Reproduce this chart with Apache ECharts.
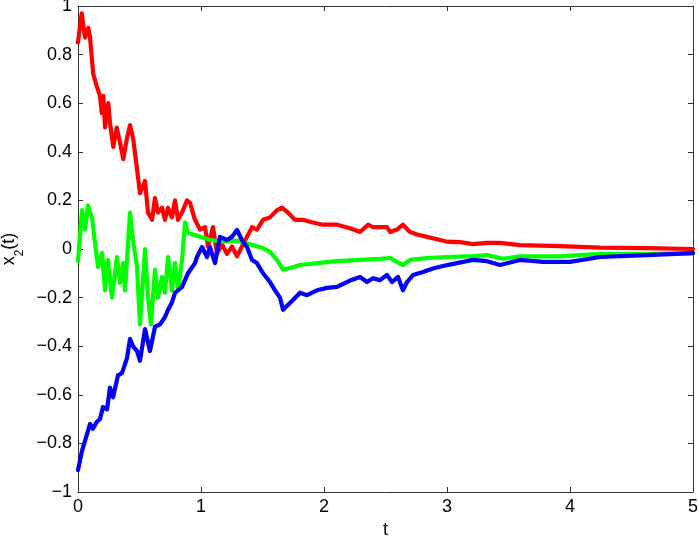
<!DOCTYPE html>
<html>
<head>
<meta charset="utf-8">
<script src="https://cdn.jsdelivr.net/npm/echarts@6/dist/echarts.min.js"></script>
<style>html,body{margin:0;padding:0;background:#fff}#c{width:699px;height:538px}</style>
</head>
<body>
<div id="c"></div>
<script>
// ---- data ----
const xTicks = [0, 1, 2, 3, 4, 5];
const yTicks = [-1, -0.8, -0.6, -0.4, -0.2, 0, 0.2, 0.4, 0.6, 0.8, 1];

const tRed = [0, 0.030, 0.057, 0.084, 0.098, 0.124, 0.152, 0.179, 0.193, 0.206, 0.220, 0.246, 0.260, 0.287, 0.315, 0.341, 0.368, 0.396, 0.423, 0.450, 0.477, 0.504, 0.545, 0.569, 0.602, 0.626, 0.650, 0.683, 0.707, 0.732, 0.764, 0.789, 0.813, 0.846, 0.886, 0.911, 0.951, 0.992, 1.033, 1.057, 1.098, 1.130, 1.171, 1.211, 1.252, 1.293, 1.333, 1.374, 1.415, 1.455, 1.504, 1.561, 1.618, 1.659, 1.707, 1.764, 1.829, 1.902, 1.992, 2.106, 2.211, 2.293, 2.358, 2.398, 2.455, 2.512, 2.537, 2.593, 2.642, 2.699, 2.756, 2.837, 2.919, 3.000, 3.106, 3.211, 3.325, 3.431, 3.593, 3.919, 4.244, 4.626, 5.000];
const yRed = [0.85, 0.97, 0.87, 0.91, 0.87, 0.72, 0.67, 0.63, 0.56, 0.63, 0.50, 0.60, 0.52, 0.42, 0.50, 0.44, 0.37, 0.45, 0.51, 0.45, 0.34, 0.23, 0.28, 0.15, 0.12, 0.21, 0.15, 0.17, 0.12, 0.17, 0.13, 0.20, 0.12, 0.15, 0.20, 0.19, 0.12, 0.08, 0.09, 0.01, 0.09, -0.02, 0.02, -0.02, 0.01, -0.03, 0.01, 0.05, 0.09, 0.08, 0.12, 0.13, 0.16, 0.17, 0.15, 0.12, 0.12, 0.11, 0.10, 0.10, 0.085, 0.07, 0.10, 0.09, 0.09, 0.09, 0.07, 0.08, 0.10, 0.07, 0.06, 0.05, 0.04, 0.03, 0.028, 0.02, 0.025, 0.025, 0.016, 0.012, 0.006, 0.004, 0.0];

const tGreen = [0, 0.033, 0.057, 0.081, 0.114, 0.138, 0.163, 0.195, 0.220, 0.244, 0.276, 0.317, 0.341, 0.366, 0.382, 0.423, 0.447, 0.480, 0.504, 0.545, 0.569, 0.593, 0.626, 0.650, 0.683, 0.707, 0.732, 0.764, 0.789, 0.813, 0.846, 0.870, 0.894, 0.951, 0.992, 1.073, 1.179, 1.293, 1.358, 1.423, 1.504, 1.561, 1.618, 1.667, 1.724, 1.805, 1.943, 2.106, 2.293, 2.455, 2.537, 2.593, 2.642, 2.699, 2.837, 3.000, 3.211, 3.325, 3.455, 3.593, 3.919, 4.244, 4.626, 5.000];
const yGreen = [-0.05, 0.16, 0.08, 0.18, 0.13, 0.025, -0.074, -0.016, -0.17, -0.045, -0.20, -0.033, -0.14, -0.058, -0.17, 0.15, 0.037, -0.074, -0.31, 0.0, -0.2, -0.31, -0.086, -0.2, -0.115, -0.18, -0.033, -0.17, -0.058, -0.17, -0.045, 0.11, 0.066, 0.058, 0.05, 0.037, 0.03, 0.035, 0.025, 0.016, 0.004, -0.012, -0.045, -0.085, -0.078, -0.066, -0.058, -0.05, -0.045, -0.041, -0.037, -0.053, -0.066, -0.045, -0.037, -0.033, -0.029, -0.025, -0.04, -0.03, -0.03, -0.02, -0.02, -0.017];

const tBlue = [0, 0.033, 0.057, 0.098, 0.122, 0.154, 0.179, 0.203, 0.236, 0.260, 0.285, 0.325, 0.358, 0.398, 0.423, 0.447, 0.480, 0.504, 0.545, 0.585, 0.626, 0.667, 0.707, 0.732, 0.764, 0.789, 0.846, 0.894, 0.951, 0.967, 1.008, 1.049, 1.073, 1.114, 1.154, 1.211, 1.252, 1.293, 1.333, 1.374, 1.415, 1.455, 1.504, 1.561, 1.602, 1.642, 1.667, 1.748, 1.805, 1.862, 1.943, 2.024, 2.106, 2.211, 2.293, 2.350, 2.398, 2.455, 2.512, 2.553, 2.602, 2.642, 2.675, 2.724, 2.805, 2.886, 2.967, 3.081, 3.211, 3.325, 3.431, 3.593, 3.780, 4.000, 4.244, 4.626, 5.000];
const yBlue = [-0.91, -0.83, -0.79, -0.72, -0.74, -0.71, -0.70, -0.65, -0.66, -0.57, -0.61, -0.52, -0.51, -0.45, -0.37, -0.40, -0.42, -0.46, -0.33, -0.42, -0.32, -0.31, -0.28, -0.25, -0.22, -0.18, -0.156, -0.10, -0.058, -0.033, 0.008, -0.033, 0.008, -0.058, 0.05, 0.037, 0.05, 0.078, 0.037, 0.008, -0.045, -0.058, -0.10, -0.136, -0.17, -0.20, -0.25, -0.21, -0.18, -0.19, -0.17, -0.16, -0.156, -0.13, -0.115, -0.136, -0.12, -0.128, -0.107, -0.136, -0.115, -0.17, -0.136, -0.107, -0.095, -0.08, -0.07, -0.058, -0.045, -0.05, -0.066, -0.045, -0.053, -0.053, -0.033, -0.025, -0.017];

function zip(xs, ys) { return xs.map((x, i) => [x, ys[i]]); }
function fmt(v) {
  const r = Math.round(v * 10) / 10;
  return String(r).replace('-', '\u2212');
}

const FONT = 'Liberation Sans';
const AX = '#333';
const chart = echarts.init(document.getElementById('c'), null, {renderer: 'canvas'});
const lineSeries = (name, xs, ys, color, zz) => ({
  name, type: 'line', data: zip(xs, ys), showSymbol: false, symbol: 'none',
  lineStyle: {color, width: 4.2, join: 'round', cap: 'round'}, itemStyle: {color}, animation: false, z: zz
});

chart.setOption({
  animation: false,
  backgroundColor: '#fff',
  grid: {left: 78, right: 6, top: 6, bottom: 46, containLabel: false, outerBoundsMode: 'none'},
  xAxis: [
    {type: 'value', min: xTicks[0], max: xTicks[xTicks.length - 1], interval: 1, position: 'bottom',
     name: 't', nameLocation: 'middle', nameGap: 24,
     nameTextStyle: {fontFamily: FONT, fontSize: 18, color: '#000'},
     axisLine: {show: true, onZero: false, lineStyle: {color: AX, width: 1}},
     axisTick: {show: true, inside: true, length: 5, lineStyle: {color: AX}},
     axisLabel: {fontFamily: FONT, fontSize: 18, color: '#000', margin: 6, formatter: fmt},
     splitLine: {show: false}},
    {type: 'value', min: xTicks[0], max: xTicks[xTicks.length - 1], interval: 1, position: 'top',
     axisLine: {show: true, onZero: false, lineStyle: {color: AX, width: 1}},
     axisTick: {show: true, inside: true, length: 5, lineStyle: {color: AX}},
     axisLabel: {show: false}, splitLine: {show: false}}
  ],
  yAxis: [
    {type: 'value', min: yTicks[0], max: yTicks[yTicks.length - 1], interval: 0.2, position: 'left',
     name: '{a|x}{b|2}{a|(t)}', nameLocation: 'middle', nameGap: 54, nameRotate: 90,
     nameTextStyle: {fontFamily: FONT, fontSize: 18, color: '#000',
       rich: {a: {fontFamily: FONT, fontSize: 18, color: '#000', lineHeight: 22},
              b: {fontFamily: FONT, fontSize: 12, color: '#000', lineHeight: 22, verticalAlign: 'bottom', padding: [0, 0, -6, 0]}}},
     axisLine: {show: true, onZero: false, lineStyle: {color: AX, width: 1}},
     axisTick: {show: true, inside: true, length: 5, lineStyle: {color: AX}},
     axisLabel: {fontFamily: FONT, fontSize: 18, color: '#000', margin: 6, formatter: fmt},
     splitLine: {show: false}},
    {type: 'value', min: yTicks[0], max: yTicks[yTicks.length - 1], interval: 0.2, position: 'right',
     axisLine: {show: true, onZero: false, lineStyle: {color: AX, width: 1}},
     axisTick: {show: true, inside: true, length: 5, lineStyle: {color: AX}},
     axisLabel: {show: false}, splitLine: {show: false}}
  ],
  series: [
    lineSeries('x2 red', tRed, yRed, '#ff0000', 2),
    lineSeries('x2 green', tGreen, yGreen, '#00ff00', 3),
    lineSeries('x2 blue', tBlue, yBlue, '#0000ff', 4)
  ]
});
</script>
</body>
</html>
